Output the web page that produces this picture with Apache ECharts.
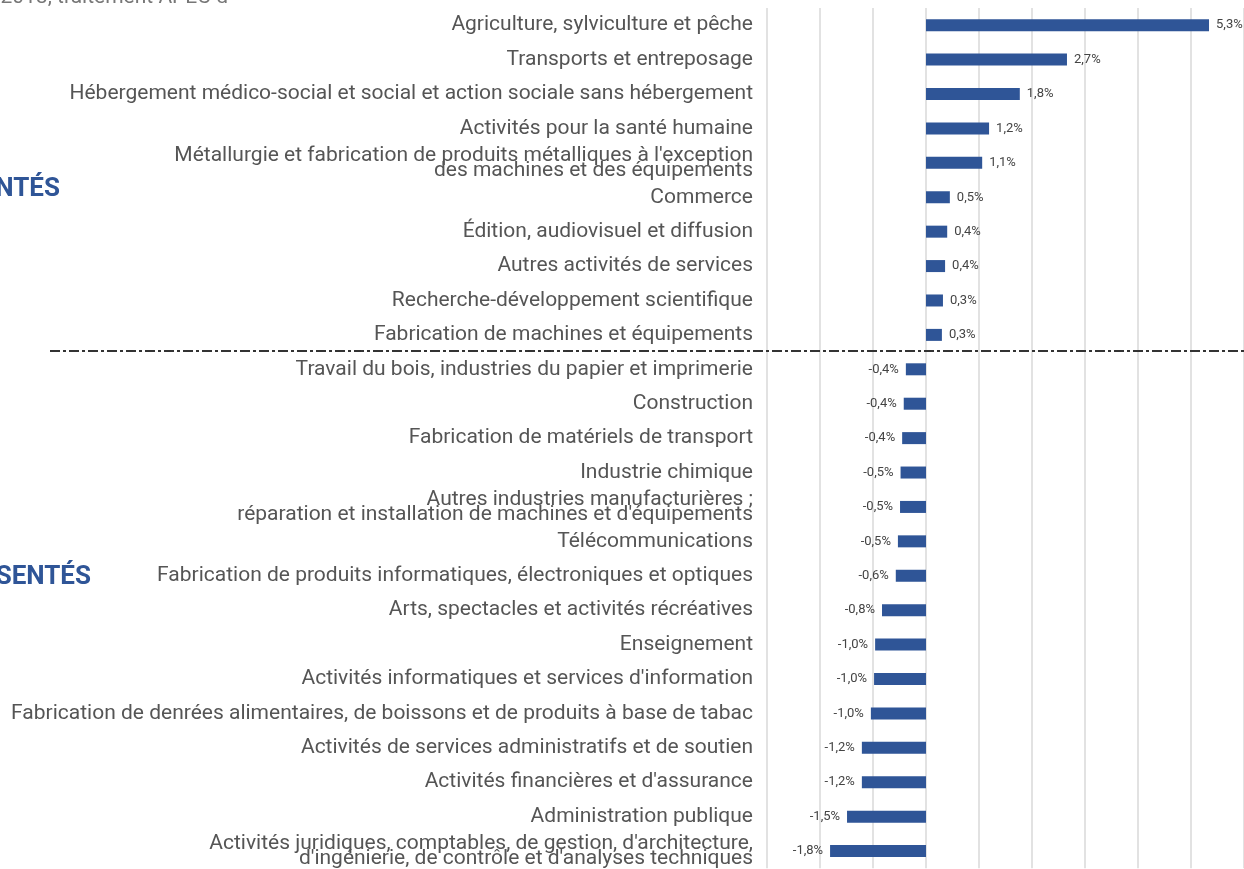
<!DOCTYPE html>
<html>
<head>
<meta charset="utf-8">
<script src="https://cdn.jsdelivr.net/npm/echarts@6/dist/echarts.min.js"></script>
<style>
  html, body { margin: 0; padding: 0; background: #fff; }
  #chart { width: 1244px; height: 869px; }
</style>
</head>
<body>
<div id="chart"></div>
<script>
// secteurs, du plus sur-représenté au plus sous-représenté
const sectors = [
  "Agriculture, sylviculture et pêche",
  "Transports et entreposage",
  "Hébergement médico-social et social et action sociale sans hébergement",
  "Activités pour la santé humaine",
  "Métallurgie et fabrication de produits métalliques à l'exception\ndes machines et des équipements",
  "Commerce",
  "Édition, audiovisuel et diffusion",
  "Autres activités de services",
  "Recherche-développement scientifique",
  "Fabrication de machines et équipements",
  "Travail du bois, industries du papier et imprimerie",
  "Construction",
  "Fabrication de matériels de transport",
  "Industrie chimique",
  "Autres industries manufacturières ;\nréparation et installation de machines et d'équipements",
  "Télécommunications",
  "Fabrication de produits informatiques, électroniques et optiques",
  "Arts, spectacles et activités récréatives",
  "Enseignement",
  "Activités informatiques et services d'information",
  "Fabrication de denrées alimentaires, de boissons et de produits à base de tabac",
  "Activités de services administratifs et de soutien",
  "Activités financières et d'assurance",
  "Administration publique",
  "Activités juridiques, comptables, de gestion, d'architecture,\nd'ingénierie, de contrôle et d'analyses techniques"
];
const gaps = [5.34, 2.66, 1.77, 1.19, 1.06, 0.45, 0.40, 0.36, 0.32, 0.30,
  -0.38, -0.42, -0.45, -0.48, -0.49, -0.53, -0.57, -0.83, -0.96, -0.98,
  -1.04, -1.21, -1.21, -1.49, -1.81];
const gapLabels = ["5,3%", "2,7%", "1,8%", "1,2%", "1,1%", "0,5%", "0,4%", "0,4%", "0,3%", "0,3%",
  "-0,4%", "-0,4%", "-0,4%", "-0,5%", "-0,5%", "-0,5%", "-0,6%", "-0,8%", "-1,0%", "-1,0%",
  "-1,0%", "-1,2%", "-1,2%", "-1,5%", "-1,8%"];
const nbOver = 10; // nombre de secteurs sur-représentés

const BLUE = '#2f5597';
const chart = echarts.init(document.getElementById('chart'));

const option = {
  animation: false,
  textStyle: { fontFamily: 'Roboto' },
  grid: { left: 767, right: 0, top: 8, bottom: -1, containLabel: false },
  xAxis: {
    type: 'value',
    min: -3, max: 6, interval: 1,
    axisLine: { show: false },
    axisTick: { show: false },
    axisLabel: { show: false },
    splitLine: { lineStyle: { color: '#d9d9d9', width: 1.5 } }
  },
  yAxis: {
    type: 'category',
    inverse: true,
    data: sectors,
    axisLine: { show: false },
    axisTick: { show: false },
    axisLabel: {
      margin: 14,
      fontSize: 21,
      color: '#555',
      lineHeight: 15,
      fontFamily: 'Roboto'
    }
  },
  series: [{
    type: 'bar',
    barWidth: 12,
    itemStyle: { color: BLUE },
    data: gaps.map((v, i) => ({
      value: v,
      label: {
        show: true,
        position: v >= 0 ? 'right' : 'left',
        distance: 7,
        formatter: gapLabels[i],
        fontSize: 13,
        color: '#444'
      }
    }))
  }],
  graphic: [
    {
      id: 'source', type: 'text', x: 228, y: -13,
      style: { text: 'Source : Insee, DADS 2013, traitement APEC d', fill: '#777', font: '21px Roboto', align: 'right', verticalAlign: 'top' }
    },
    {
      id: 'over', type: 'text', x: 60, y: 189,
      style: { text: 'SURREPRÉSENTÉS', fill: BLUE, font: 'bold 26px Roboto', align: 'right', verticalAlign: 'middle' }
    },
    {
      id: 'under', type: 'text', x: 91, y: 577,
      style: { text: 'SOUS-REPRÉSENTÉS', fill: BLUE, font: 'bold 26px Roboto', align: 'right', verticalAlign: 'middle' }
    }
  ]
};
chart.setOption(option);

// ligne de séparation entre sur- et sous-représentés
const yA = chart.convertToPixel({ yAxisIndex: 0 }, sectors[nbOver - 1]);
const yB = chart.convertToPixel({ yAxisIndex: 0 }, sectors[nbOver]);
const yMid = Math.round((yA + yB) / 2) - 1;
chart.setOption({
  graphic: [{
    id: 'divider', type: 'line', z: 10,
    shape: { x1: 50, y1: yMid, x2: 1244, y2: yMid },
    style: { stroke: '#333', lineWidth: 2, lineDash: [10, 3, 3, 3] }
  }]
});
</script>
</body>
</html>
